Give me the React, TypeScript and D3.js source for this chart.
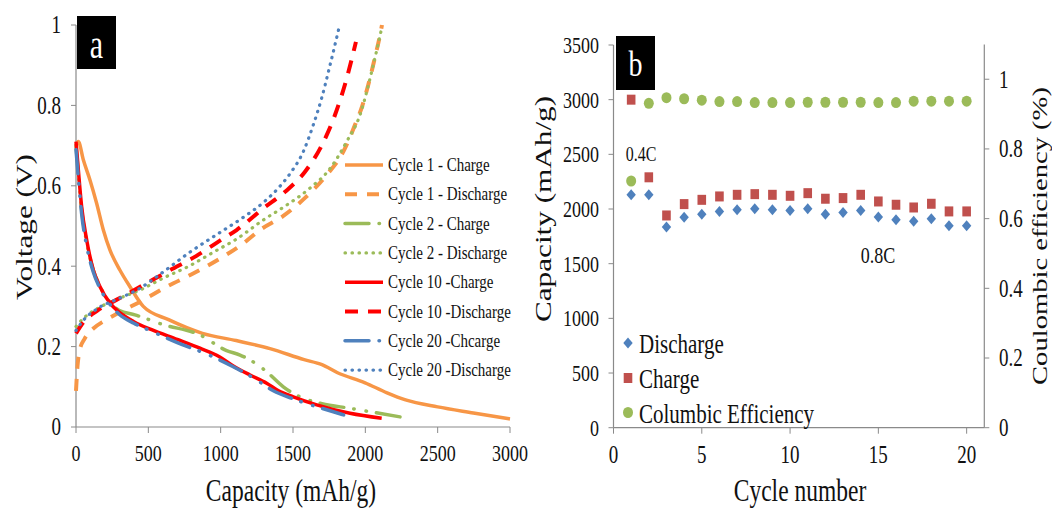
import React from "react";
import * as d3 from "d3";

// ---------- Panel a data: [capacity mAh/g, voltage V] ----------
const cycle1Charge: [number, number][] = [
  [0, 0.70], [16, 0.71], [51, 0.664], [97, 0.614], [143, 0.556], [189, 0.49], [235, 0.44],
  [304, 0.39], [373, 0.349], [465, 0.30], [640, 0.267], [874, 0.233], [1107, 0.215],
  [1341, 0.195], [1577, 0.1675], [1700, 0.155], [1808, 0.135], [1998, 0.11], [2150, 0.085],
  [2278, 0.0675], [2500, 0.05], [2747, 0.035], [3000, 0.02],
];
const cycle1Discharge: [number, number][] = [
  [0, 0.09], [10, 0.15], [25, 0.19], [60, 0.22], [120, 0.245], [200, 0.265], [300, 0.285],
  [465, 0.316], [627, 0.349], [800, 0.38], [1000, 0.42], [1150, 0.455], [1272, 0.49],
  [1433, 0.525], [1583, 0.57], [1733, 0.627], [1848, 0.685], [1928, 0.751], [1980, 0.80],
  [2020, 0.851], [2065, 0.917], [2106, 0.983], [2115, 1.0],
];
const cycle2Charge: [number, number][] = [
  [0, 0.70], [16, 0.63], [39, 0.54], [74, 0.46], [120, 0.39], [166, 0.35], [235, 0.31],
  [300, 0.29], [407, 0.279], [600, 0.255], [857, 0.229], [1041, 0.19], [1134, 0.179],
  [1225, 0.162], [1318, 0.1375], [1433, 0.1], [1548, 0.075], [1700, 0.058], [1894, 0.0465],
  [2032, 0.038], [2290, 0.022],
];
const cycle2Discharge: [number, number][] = [
  [0, 0.25], [50, 0.27], [150, 0.295], [300, 0.32], [450, 0.342], [600, 0.37], [780, 0.40],
  [950, 0.435], [1107, 0.467], [1295, 0.515], [1456, 0.552], [1617, 0.594], [1756, 0.643],
  [1871, 0.71], [1963, 0.776], [2044, 0.884], [2113, 0.992],
];
const cycle10Charge: [number, number][] = [
  [0, 0.71], [16, 0.64], [39, 0.548], [74, 0.465], [120, 0.39], [166, 0.349], [235, 0.308],
  [300, 0.285], [400, 0.262], [523, 0.242], [700, 0.218], [857, 0.196], [991, 0.175],
  [1087, 0.152], [1200, 0.13], [1318, 0.109], [1400, 0.09], [1502, 0.075], [1664, 0.055],
  [1894, 0.034], [2113, 0.0216],
];
const cycle10Discharge: [number, number][] = [
  [0, 0.233], [50, 0.26], [150, 0.29], [300, 0.32], [500, 0.36], [650, 0.39], [830, 0.425],
  [1000, 0.465], [1110, 0.49], [1295, 0.544], [1445, 0.585], [1583, 0.635], [1698, 0.70],
  [1790, 0.776], [1871, 0.867], [1935, 0.958],
];
const cycle20Charge: [number, number][] = [
  [0, 0.69], [16, 0.62], [39, 0.53], [74, 0.45], [120, 0.385], [166, 0.345], [235, 0.305],
  [300, 0.28], [400, 0.258], [523, 0.238], [700, 0.21], [926, 0.178], [1087, 0.15],
  [1249, 0.117], [1364, 0.09], [1500, 0.07], [1650, 0.052], [1779, 0.038], [1850, 0.03],
];
const cycle20Discharge: [number, number][] = [
  [0, 0.24], [50, 0.265], [150, 0.295], [300, 0.32], [442, 0.345], [581, 0.38], [780, 0.433],
  [1000, 0.485], [1150, 0.52], [1300, 0.56], [1400, 0.595], [1479, 0.63], [1571, 0.685],
  [1640, 0.751], [1698, 0.818], [1756, 0.90], [1820, 0.996],
];

const voltageTicks = [0, 0.2, 0.4, 0.6, 0.8, 1];
const voltageTickLabels = ["0", "0.2", "0.4", "0.6", "0.8", "1"];
const capacityTicks = [0, 500, 1000, 1500, 2000, 2500, 3000];

type Series = { name: string; data: [number, number][]; color: string; dash: string; cap: "butt" | "round"; width: number };
const seriesA: Series[] = [
  { name: "Cycle 1 - Charge", data: cycle1Charge, color: "#F79646", dash: "", cap: "butt", width: 3.5 },
  { name: "Cycle 1 - Discharge", data: cycle1Discharge, color: "#F79646", dash: "12,10", cap: "butt", width: 4 },
  { name: "Cycle 2 - Charge", data: cycle2Charge, color: "#9BBB59", dash: "24,10,0.5,12,0.5,10", cap: "round", width: 3.5 },
  { name: "Cycle 2 - Discharge", data: cycle2Discharge, color: "#9BBB59", dash: "0.5,6.5", cap: "round", width: 3.2 },
  { name: "Cycle 10 -Charge", data: cycle10Charge, color: "#FF0000", dash: "", cap: "butt", width: 3.5 },
  { name: "Cycle 10 -Discharge", data: cycle10Discharge, color: "#FF0000", dash: "13,10", cap: "butt", width: 4 },
  { name: "Cycle 20 -Chcarge", data: cycle20Charge, color: "#4F81BD", dash: "24,10,0.5,12,0.5,10", cap: "round", width: 3.5 },
  { name: "Cycle 20 -Discharge", data: cycle20Discharge, color: "#4F81BD", dash: "0.5,6.5", cap: "round", width: 3.2 },
];

// ---------- Panel b data ----------
const cycles = [1, 2, 3, 4, 5, 6, 7, 8, 9, 10, 11, 12, 13, 14, 15, 16, 17, 18, 19, 20];
const dischargeCapacity = [2130, 2130, 1835, 1925, 1953, 1978, 1993, 2002, 1993, 1987, 2002, 1953, 1969, 1987, 1926, 1902, 1887, 1911, 1847, 1847];
const chargeCapacity = [3000, 2290, 1941, 2045, 2084, 2115, 2130, 2136, 2130, 2121, 2145, 2094, 2100, 2130, 2069, 2039, 2014, 2048, 1978, 1978];
const coulombicEfficiency = [0.708, 0.931, 0.947, 0.944, 0.940, 0.936, 0.936, 0.933, 0.933, 0.933, 0.934, 0.934, 0.934, 0.934, 0.933, 0.933, 0.937, 0.937, 0.937, 0.937];
const capTicksB = [0, 500, 1000, 1500, 2000, 2500, 3000, 3500];
const effTicks = [0, 0.2, 0.4, 0.6, 0.8, 1];
const effTickLabels = ["0", "0.2", "0.4", "0.6", "0.8", "1"];
const cycleTicks = [0, 5, 10, 15, 20];

const FONT = '"Liberation Serif","Times New Roman",Times,serif';
const AXIS = "#8a8a8a";

function Txt(props: { x: number; y: number; size: number; anchor?: string; rot?: number; sy?: number; fill?: string; children: React.ReactNode }) {
  const { x, y, size, anchor = "middle", rot = 0, sy = 1.3, fill = "#111", children } = props;
  return (
    <text
      transform={`translate(${x},${y}) scale(1,${sy}) rotate(${rot})`}
      fontSize={size}
      fontFamily={FONT}
      textAnchor={anchor as any}
      dominantBaseline="central"
      fill={fill}
    >
      {children}
    </text>
  );
}

export default function App() {
  const W = 1052, H = 508;
  // panel a scales
  const xA = d3.scaleLinear().domain([0, 3000]).range([76, 510]);
  const yA = d3.scaleLinear().domain([0, 1]).range([427, 25]);
  const lineA = d3.line<[number, number]>().x((d) => xA(d[0])).y((d) => yA(d[1])).curve(d3.curveMonotoneX);

  // panel b scales
  const xB = d3.scaleLinear().domain([0, 21]).range([613.5, 984.3]);
  const yB = d3.scaleLinear().domain([0, 3500]).range([427.7, 45]);
  const yB2 = d3.scaleLinear().domain([0, 1.1]).range([427.7, 44.4]);

  const legendRows = seriesA.map((_, i) => 165 + i * 29.3);

  return (
    <svg
      width={W}
      height={H}
      viewBox={`0 0 ${W} ${H}`}
      style={{ position: "fixed", left: 0, top: 0, background: "#fff" }}
    >
      <rect x={0} y={0} width={W} height={H} fill="#fff" />

      {/* ================= Panel a ================= */}
      <g>
        {/* axes */}
        <line x1={xA(0)} x2={xA(3000)} y1={yA(0)} y2={yA(0)} stroke={AXIS} strokeWidth={1.2} />
        <line x1={xA(0)} x2={xA(0)} y1={yA(0)} y2={yA(1)} stroke={AXIS} strokeWidth={1.2} />
        {voltageTicks.map((v, i) => (
          <g key={"vt" + i}>
            <line x1={xA(0) - 5} x2={xA(0)} y1={yA(v)} y2={yA(v)} stroke={AXIS} strokeWidth={1} />
            <Txt x={61} y={yA(v)} size={19} anchor="end">{voltageTickLabels[i]}</Txt>
          </g>
        ))}
        {capacityTicks.map((c) => (
          <g key={"ct" + c}>
            <line x1={xA(c)} x2={xA(c)} y1={yA(0)} y2={yA(0) + 6} stroke={AXIS} strokeWidth={1} />
            <Txt x={xA(c)} y={453} size={18}>{String(c)}</Txt>
          </g>
        ))}

        {/* curves */}
        {seriesA.map((s) => (
          <path
            key={s.name}
            d={lineA(s.data) || ""}
            fill="none"
            stroke={s.color}
            strokeWidth={s.width}
            strokeDasharray={s.dash || undefined}
            strokeLinecap={s.cap}
            strokeLinejoin="round"
          />
        ))}

        {/* legend */}
        {seriesA.map((s, i) => (
          <g key={"lg" + i}>
            <line
              x1={345}
              x2={383}
              y1={legendRows[i]}
              y2={legendRows[i]}
              stroke={s.color}
              strokeWidth={s.width}
              strokeDasharray={s.dash || undefined}
              strokeLinecap={s.cap}
            />
            <Txt x={388} y={legendRows[i]} size={15} anchor="start">{s.name}</Txt>
          </g>
        ))}

        {/* label a */}
        <rect x={77} y={16} width={39} height={53} fill="#000" />
        <Txt x={96.5} y={45} size={30} fill="#fff">a</Txt>

        {/* titles */}
        <Txt x={24} y={227} size={24} rot={-90}>Voltage (V)</Txt>
        <Txt x={291} y={491} size={23.5}>Capacity (mAh/g)</Txt>
      </g>

      {/* ================= Panel b ================= */}
      <g>
        <line x1={xB(0)} x2={xB(21)} y1={yB(0)} y2={yB(0)} stroke={AXIS} strokeWidth={1.2} />
        <line x1={xB(0)} x2={xB(0)} y1={yB(0)} y2={yB(3500)} stroke={AXIS} strokeWidth={1.2} />
        <line x1={xB(21)} x2={xB(21)} y1={yB2(0)} y2={yB2(1.1)} stroke={AXIS} strokeWidth={1.2} />
        {capTicksB.map((c) => (
          <g key={"cb" + c}>
            <line x1={xB(0) - 5} x2={xB(0)} y1={yB(c)} y2={yB(c)} stroke={AXIS} strokeWidth={1} />
            <Txt x={599} y={yB(c)} size={18} anchor="end">{String(c)}</Txt>
          </g>
        ))}
        {effTicks.map((e, i) => (
          <g key={"eb" + i}>
            <line x1={xB(21)} x2={xB(21) + 5} y1={yB2(e)} y2={yB2(e)} stroke={AXIS} strokeWidth={1} />
            <Txt x={999} y={yB2(e)} size={19} anchor="start">{effTickLabels[i]}</Txt>
          </g>
        ))}
        {cycleTicks.map((c) => (
          <g key={"xb" + c}>
            <line x1={xB(c)} x2={xB(c)} y1={yB(0)} y2={yB(0) + 6} stroke={AXIS} strokeWidth={1} />
            <Txt x={xB(c)} y={455} size={19}>{String(c)}</Txt>
          </g>
        ))}

        {/* markers */}
        {cycles.map((c, i) => (
          <ellipse key={"ce" + c} cx={xB(c)} cy={yB2(coulombicEfficiency[i])} rx={5} ry={5.5} fill="#9BBB59" />
        ))}
        {cycles.map((c, i) => (
          <rect key={"sq" + c} x={xB(c) - 4.3} y={yB(chargeCapacity[i]) - 5} width={8.6} height={10} fill="#C0504D" />
        ))}
        {cycles.map((c, i) => {
          const cx = xB(c), cy = yB(dischargeCapacity[i]);
          return <path key={"dm" + c} d={`M${cx},${cy - 5.5}L${cx + 4.7},${cy}L${cx},${cy + 5.5}L${cx - 4.7},${cy}Z`} fill="#4F81BD" />;
        })}

        {/* annotations */}
        <Txt x={641} y={154} size={16}>0.4C</Txt>
        <Txt x={878} y={255} size={18}>0.8C</Txt>

        {/* legend */}
        <path d={`M628,${343 - 5.5}L632.7,343L628,${343 + 5.5}L623.3,343Z`} fill="#4F81BD" />
        <Txt x={639} y={343} size={21} anchor="start">Discharge</Txt>
        <rect x={623.7} y={373} width={8.6} height={10} fill="#C0504D" />
        <Txt x={639} y={378} size={21} anchor="start">Charge</Txt>
        <ellipse cx={628} cy={412.5} rx={5} ry={5.5} fill="#9BBB59" />
        <Txt x={639} y={413} size={21} anchor="start">Columbic Efficiency</Txt>

        {/* label b */}
        <rect x={616} y={36} width={39} height={54} fill="#000" />
        <Txt x={635.5} y={64} size={28} fill="#fff">b</Txt>

        {/* titles */}
        <Txt x={543} y={209} size={24} rot={-90}>Capacity (mAh/g)</Txt>
        <Txt x={1040} y={236} size={22} rot={-90}>Coulombic efficiency (%)</Txt>
        <Txt x={800} y={491} size={23.5}>Cycle number</Txt>
      </g>
    </svg>
  );
}
